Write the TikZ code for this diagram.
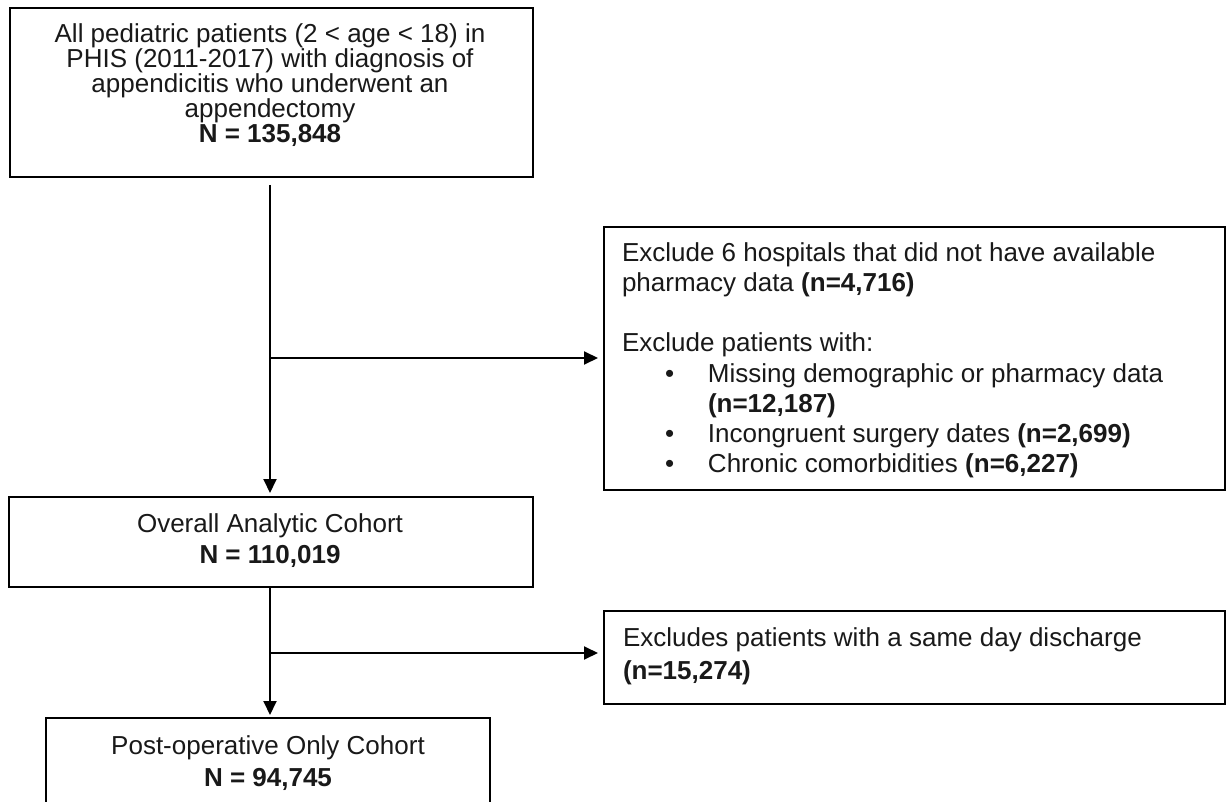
\documentclass[tikz,border=0pt]{standalone}
\usepackage{fontspec}
\setmainfont{Liberation Sans}
\usetikzlibrary{arrows.meta}
\begin{document}
\begin{tikzpicture}[x=1pt,y=-1pt,
  box/.style={draw, line width=2pt, inner sep=0pt, outer sep=0pt},
  txt/.style={inner sep=0pt, outer sep=0pt, text=black!90},
  flow/.style={line width=1.9pt, -{Triangle[length=14pt,width=13pt]}}]
\clip (0,0) rectangle (1228,802);
\useasboundingbox (0,0) rectangle (1228,802);
\fill[white] (0,0) rectangle (1228,802);
% boxes
\node[box, minimum width=523pt, minimum height=169pt] (b1) at (271.5,92.5) {};
\node[box, minimum width=621pt, minimum height=263pt] (rb1) at (914.5,358.5) {};
\node[box, minimum width=524pt, minimum height=90pt] (b2) at (271,542) {};
\node[box, minimum width=621pt, minimum height=93pt] (rb2) at (914.5,657.5) {};
\node[box, minimum width=444pt, minimum height=94pt] (b3) at (268,765) {};
% texts (anchored at the baseline of their last line)
\node[txt, align=center, anchor=base, font=\fontsize{26}{25}\selectfont] (t1) at (270,142.3)
  {All pediatric patients (2 < age < 18) in\\PHIS (2011-2017) with diagnosis of\\appendicitis who underwent an\\appendectomy\\\textbf{N = 135,848}};
\node[txt, align=left, anchor=base west, font=\fontsize{26}{30.1}\selectfont] (t2) at (622,472.3)
  {Exclude 6 hospitals that did not have available\\pharmacy data \textbf{(n=4,716)}\\[30.1pt]Exclude patients with:\\
   \hspace*{43pt}\makebox[43pt][l]{•}Missing demographic or pharmacy data\\
   \hspace*{86pt}\textbf{(n=12,187)}\\
   \hspace*{43pt}\makebox[43pt][l]{•}Incongruent surgery dates \textbf{(n=2,699)}\\
   \hspace*{43pt}\makebox[43pt][l]{•}Chronic comorbidities \textbf{(n=6,227)}};
\node[txt, align=center, anchor=base, font=\fontsize{26}{31}\selectfont] (t3) at (270,563.3)
  {Overall Analytic Cohort\\\textbf{N = 110,019}};
\node[txt, align=left, anchor=base west, font=\fontsize{26}{33}\selectfont] (t4) at (623,679.3)
  {Excludes patients with a same day discharge\\\textbf{(n=15,274)}};
\node[txt, align=center, anchor=base, font=\fontsize{26}{32}\selectfont] (t5) at (268,786.3)
  {Post-operative Only Cohort\\\textbf{N = 94,745}};
% connectors
\coordinate (j1) at (270,358);
\coordinate (j2) at (270,653);
\draw[flow, shorten <=8pt, shorten >=4pt] (b1.south -| j1) -- (b2.north -| j1);
\draw[flow, shorten >=6pt] (j1) -- (rb1.west |- j1);
\draw[flow, shorten >=3pt] (b2.south -| j2) -- (b3.north -| j2);
\draw[flow, shorten >=6pt] (j2) -- (rb2.west |- j2);
\end{tikzpicture}
\end{document}
